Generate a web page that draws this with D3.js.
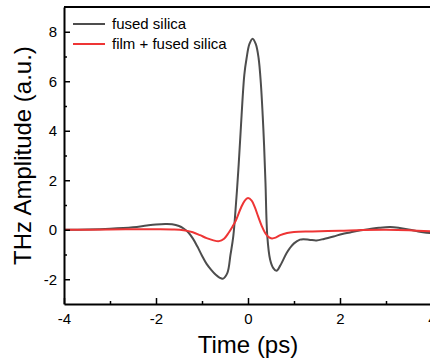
<!DOCTYPE html>
<html lang="en">
<head>
    <meta charset="UTF-8">
    <script src="https://cdn.jsdelivr.net/npm/d3@7"></script>
    <title>THz Amplitude</title>
    <style>
        body { margin: 0; background: #fff; }
        svg { display: block; font-family: Arial, "Liberation Sans", sans-serif; }
    </style>
</head>
<body>
    <svg width="430" height="360"></svg>
    <script>
        // time axis (ps) and amplitude (a.u.)
        const silicaTime = [-4, -3.5, -3, -2.5, -2.2, -2.0, -1.8, -1.65, -1.5, -1.4, -1.3, -1.2, -1.1, -1.0, -0.9, -0.8, -0.7, -0.62, -0.55, -0.45, -0.38, -0.32, -0.26, -0.21, -0.16, -0.08, -0.03, 0.03, 0.1, 0.17, 0.23, 0.28, 0.32, 0.35, 0.38, 0.42, 0.48, 0.55, 0.62, 0.7, 0.84, 0.91, 1.0, 1.13, 1.2, 1.35, 1.49, 1.65, 1.86, 2.05, 2.22, 2.45, 2.65, 2.85, 3.09, 3.3, 3.52, 3.7, 3.88, 4.0];
        const silicaAmp = [0, 0.01, 0.04, 0.1, 0.17, 0.21, 0.23, 0.22, 0.15, 0.05, -0.1, -0.35, -0.68, -1.05, -1.38, -1.62, -1.82, -1.93, -1.98, -1.75, -1.0, -0.27, 1.08, 2.42, 3.97, 6.26, 6.94, 7.5, 7.72, 7.5, 6.94, 5.9, 4.6, 3.4, 1.9, -0.27, -1.2, -1.55, -1.66, -1.45, -0.94, -0.74, -0.55, -0.4, -0.38, -0.41, -0.43, -0.37, -0.27, -0.17, -0.11, -0.02, 0.03, 0.08, 0.11, 0.07, 0, -0.07, -0.12, -0.13];

        const filmTime = [-4, -3, -2.5, -2, -1.6, -1.4, -1.2, -1.04, -0.9, -0.75, -0.63, -0.52, -0.42, -0.33, -0.27, -0.15, -0.07, 0.0, 0.08, 0.15, 0.22, 0.3, 0.38, 0.45, 0.52, 0.6, 0.7, 0.85, 1.0, 1.4, 2.0, 2.5, 3.0, 3.5, 4.0];
        const filmAmp = [0, 0.01, 0.02, 0.02, 0.01, -0.02, -0.1, -0.22, -0.34, -0.43, -0.46, -0.36, -0.12, 0.15, 0.35, 0.9, 1.18, 1.28, 1.18, 0.9, 0.54, 0.15, -0.15, -0.3, -0.35, -0.32, -0.22, -0.13, -0.09, -0.07, -0.04, -0.01, 0.0, -0.02, -0.07];

        const seriesNames = ['fused silica', 'film + fused silica'];
        const seriesColors = ['#4d4d4d', '#ee3535'];

        const xMajor = [-4, -2, 0, 2, 4];
        const xMinor = [-3, -1, 1, 3];
        const yMajor = [-2, 0, 2, 4, 6, 8];
        const yMinor = [-1, 1, 3, 5, 7];

        const svg = d3.select('svg');
        const plotLeft = 64, plotRight = 432, plotTop = 7, plotBottom = 304;

        const x = d3.scaleLinear().domain([-4, 4]).range([plotLeft, plotRight]);
        const y = d3.scaleLinear().domain([-3, 9]).range([plotBottom, plotTop]);

        const series = [
            silicaTime.map((t, i) => [t, silicaAmp[i]]),
            filmTime.map((t, i) => [t, filmAmp[i]])
        ];

        const line = d3.line().x(d => x(d[0])).y(d => y(d[1])).curve(d3.curveCatmullRom.alpha(0.5));

        svg.append('g').selectAll('path').data(series).join('path')
            .attr('d', line)
            .attr('fill', 'none')
            .attr('stroke', (d, i) => seriesColors[i])
            .attr('stroke-width', 2)
            .attr('stroke-linejoin', 'round');

        // top frame line
        svg.append('line')
            .attr('x1', plotLeft).attr('x2', plotRight)
            .attr('y1', plotTop).attr('y2', plotTop)
            .attr('stroke', '#000').attr('stroke-width', 2);

        // plain hyphen for negatives, like the original
        const fmt = d => String(d);

        // axes, ticks pointing inward
        svg.append('g').attr('transform', `translate(0,${plotBottom})`)
            .call(d3.axisBottom(x).tickValues(xMajor).tickFormat(fmt)
                .tickSizeInner(-6).tickSizeOuter(0).tickPadding(9));
        svg.append('g').attr('transform', `translate(0,${plotBottom})`)
            .call(d3.axisBottom(x).tickValues(xMinor).tickFormat('')
                .tickSizeInner(-3).tickSizeOuter(0))
            .call(g => g.select('.domain').remove());

        svg.append('g').attr('transform', `translate(${plotLeft},0)`)
            .call(d3.axisLeft(y).tickValues(yMajor).tickFormat(fmt)
                .tickSizeInner(-6).tickSizeOuter(0).tickPadding(7));
        svg.append('g').attr('transform', `translate(${plotLeft},0)`)
            .call(d3.axisLeft(y).tickValues(yMinor).tickFormat('')
                .tickSizeInner(-3).tickSizeOuter(0))
            .call(g => g.select('.domain').remove());

        svg.selectAll('.domain').attr('stroke-width', 2);
        svg.selectAll('.tick line').attr('stroke-width', 1.5);
        svg.selectAll('.tick text').attr('font-size', 15).attr('font-family', 'Arial, "Liberation Sans", sans-serif').attr('fill', '#000');

        // axis titles
        svg.append('text')
            .attr('x', x(0)).attr('y', 353)
            .attr('text-anchor', 'middle')
            .attr('font-size', 24)
            .text('Time (ps)');

        svg.append('text')
            .attr('transform', `translate(31,${(plotTop + plotBottom) / 2}) rotate(-90)`)
            .attr('text-anchor', 'middle')
            .attr('font-size', 24)
            .text('THz Amplitude (a.u.)');

        // legend
        const legend = svg.append('g').selectAll('g').data(seriesNames).join('g')
            .attr('transform', (d, i) => `translate(73,${24 + i * 20})`);
        legend.append('line')
            .attr('x1', 0).attr('x2', 32)
            .attr('stroke', (d, i) => seriesColors[i])
            .attr('stroke-width', 2);
        legend.append('text')
            .attr('x', 39).attr('dy', '0.35em')
            .attr('font-size', 15)
            .text(d => d);
    </script>
</body>
</html>
